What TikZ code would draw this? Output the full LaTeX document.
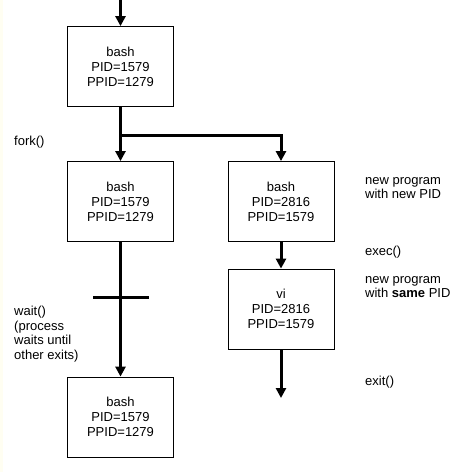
\documentclass[tikz,border=0pt]{standalone}
\usepackage{fontspec}
\setmainfont{Liberation Sans}
\usetikzlibrary{arrows.meta}
\begin{document}
\begin{tikzpicture}[x=1pt,y=-1pt,
  procbox/.style={draw,line width=0.8pt,minimum width=106pt,minimum height=80pt,inner sep=0pt,align=center,font=\fontsize{13}{15}\selectfont},
  conn/.style={line width=3pt,-{Triangle[length=10pt,width=10pt]}},
  plain/.style={line width=3pt},
  note/.style={anchor=north west,inner sep=0pt,align=left,font=\fontsize{13}{14.5}\selectfont}]
\useasboundingbox (0,0) rectangle (454,472);
\fill[white] (0,0) rectangle (454,472);
\fill[black!4!yellow!5] (0,0) rectangle (3,472);
% boxes
\node[procbox] (b1) at (120.5,66.5) {bash\\PID=1579\\PPID=1279};
\node[procbox] (b2) at (120.5,201.5) {bash\\PID=1579\\PPID=1279};
\node[procbox] (b3) at (281,201.5) {bash\\PID=2816\\PPID=1579};
\node[procbox] (vi) at (281,309) {vi\\PID=2816\\PPID=1579};
\node[procbox] (b4) at (120.5,417) {bash\\PID=1579\\PPID=1279};
% connectors
\coordinate (top) at (120.5,0);
\coordinate (fk) at (120.5,135);
\coordinate (ex) at (281,398);
\coordinate (wl) at (93,297);
\coordinate (wr) at (149,297);
\draw[conn] (top) -- (b1.north);
\draw[conn] (b1.south) -- (b2.north);
\draw[conn] (fk) -| (b3.north);
\draw[conn] (b3.south) -- (vi.north);
\draw[conn] (vi.south) -- (ex);
\draw[conn] (b2.south) -- (b4.north);
\draw[plain] (wl) -- (wr);
% notes
\node[note] (tfork) at (14,136) {fork()};
\node[note] (twait) at (14,306) {wait()\\(process\\waits until\\other exits)};
\node[note] (tnew) at (365,177) {new program\\with new PID};
\node[note] (texec) at (365,246) {exec()};
\node[note] (tsame) at (365,276) {new program\\with \textbf{same} PID};
\node[note] (texit) at (365,376) {exit()};
\end{tikzpicture}
\end{document}
